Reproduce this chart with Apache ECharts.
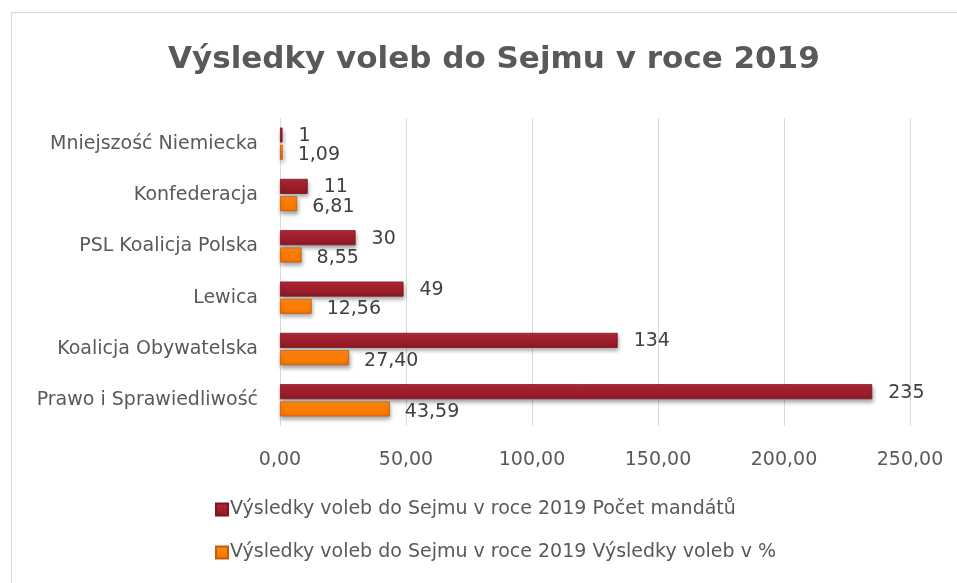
<!DOCTYPE html>
<html><head><meta charset="utf-8">
<script src="https://cdn.jsdelivr.net/npm/echarts@6/dist/echarts.min.js"></script>
<style>
html,body{margin:0;padding:0;background:#fff;}
#frame{position:absolute;left:11px;top:12px;width:960px;height:600px;border-left:1px solid #d9d9d9;border-top:1px solid #d9d9d9;}
#c{position:absolute;left:0;top:0;width:957px;height:583px;}
</style></head>
<body>
<div id="frame"></div>
<div id="c"></div>
<script>
const categories = ["Prawo i Sprawiedliwość","Koalicja Obywatelska","Lewica","PSL Koalicja Polska","Konfederacja","Mniejszość Niemiecka"];
const seats = [235,134,49,30,11,1];
const percent = [43.59,27.40,12.56,8.55,6.81,1.09];
const seriesNames = ["Výsledky voleb do Sejmu v roce 2019 Počet mandátů","Výsledky voleb do Sejmu v roce 2019 Výsledky voleb v %"];
const titleText = "Výsledky voleb do Sejmu v roce 2019";

const TFONT = "'DejaVu Sans', sans-serif";
const FONT = "'DejaVu Sans', sans-serif";
const fmtComma = v => v.toFixed(2).replace('.', ',');
const chart = echarts.init(document.getElementById('c'), null, {renderer:'canvas'});
chart.setOption({
  animation:false,
  backgroundColor:'transparent',
  title:{text:titleText,left:163,top:39,textStyle:{fontFamily:TFONT,fontSize:31,fontWeight:'bold',color:'#595959'}},
  grid:{left:280,right:47,top:118,bottom:157,containLabel:false},
  legend:{orient:'vertical',left:210,top:495,itemGap:24,itemWidth:12,itemHeight:12,icon:'rect',
    textStyle:{fontFamily:FONT,fontSize:19,color:'#595959',padding:[0,0,0,-3]},
    data:seriesNames},
  xAxis:{type:'value',min:0,max:250,interval:50,
    axisLine:{show:false},axisTick:{show:false},
    splitLine:{lineStyle:{color:'#d9d9d9',width:1}},
    axisLabel:{margin:25,fontFamily:FONT,fontSize:19,color:'#595959',formatter:v=>fmtComma(v)}},
  yAxis:{type:'category',data:categories,
    axisLine:{show:false},axisTick:{show:false},
    axisLabel:{margin:22,fontFamily:FONT,fontSize:19,color:'#595959'}},
  series:[
    {name:seriesNames[0],type:'bar',data:seats,barWidth:15,barGap:'15%',
      itemStyle:{color:new echarts.graphic.LinearGradient(0,0,0,1,[{offset:0,color:'#b52a38'},{offset:0.5,color:'#a11f2d'},{offset:1,color:'#8a1824'}]),
        borderColor:'#7d1420',borderWidth:0.8,shadowColor:'rgba(0,0,0,0.35)',shadowBlur:4,shadowOffsetY:3,shadowOffsetX:1},
      label:{show:true,position:'right',distance:16,fontFamily:FONT,fontSize:19,color:'#404040',offset:[0,1]}},
    {name:seriesNames[1],type:'bar',data:percent,barWidth:15,
      itemStyle:{color:new echarts.graphic.LinearGradient(0,0,0,1,[{offset:0,color:'#ff8c1a'},{offset:0.5,color:'#ff7f00'},{offset:1,color:'#f07400'}]),
        borderColor:'#c55a11',borderWidth:0.8,shadowColor:'rgba(0,0,0,0.35)',shadowBlur:4,shadowOffsetY:3,shadowOffsetX:1},
      label:{show:true,position:'right',distance:15,fontFamily:FONT,fontSize:19,color:'#404040',formatter:p=>fmtComma(p.value),offset:[0,3]}}
  ]
});
</script>
</body></html>
